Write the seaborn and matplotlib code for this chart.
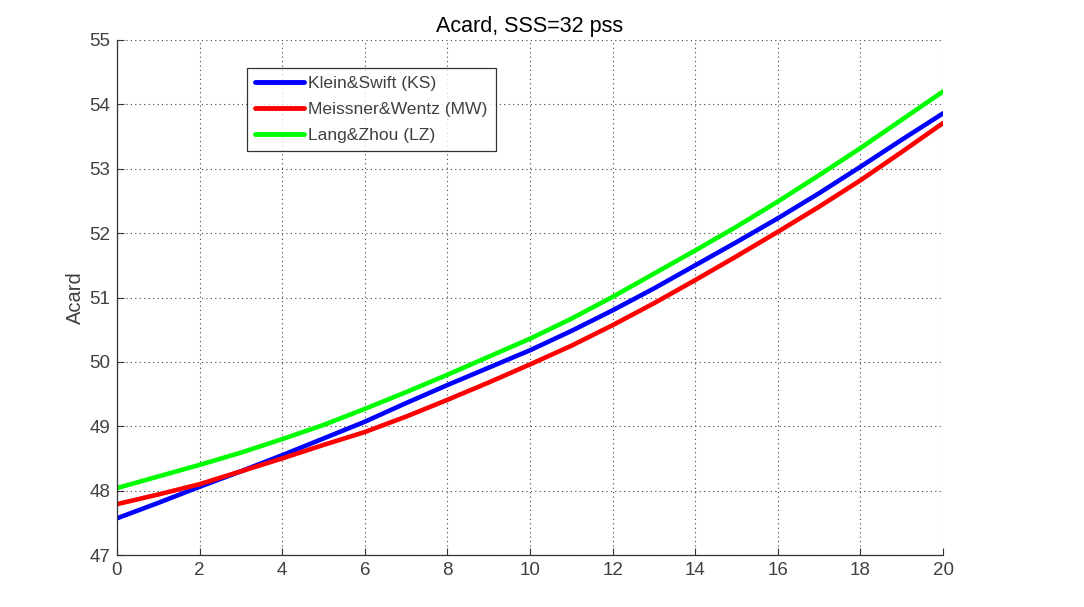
import matplotlib
matplotlib.use("Agg")
import matplotlib.pyplot as plt
import seaborn as sns
import pandas as pd

x_vals = list(range(0, 21))
ks_vals = [47.57, 47.81, 48.06, 48.30, 48.55, 48.81, 49.07, 49.36, 49.64, 49.91, 50.18,
           50.48, 50.80, 51.14, 51.50, 51.86, 52.23, 52.62, 53.03, 53.45, 53.86]
mw_vals = [47.79, 47.94, 48.10, 48.30, 48.50, 48.71, 48.91, 49.15, 49.41, 49.68, 49.96,
           50.25, 50.57, 50.91, 51.27, 51.64, 52.02, 52.41, 52.82, 53.26, 53.71]
lz_vals = [48.04, 48.22, 48.40, 48.59, 48.80, 49.02, 49.27, 49.53, 49.80, 50.08, 50.36,
           50.67, 51.01, 51.37, 51.73, 52.10, 52.49, 52.90, 53.32, 53.76, 54.20]
series_names = ["Klein&Swift (KS)", "Meissner&Wentz (MW)", "Lang&Zhou (LZ)"]
colors = ["#0000FF", "#FF0000", "#00FF00"]
x_ticks = list(range(0, 21, 2))
y_ticks = list(range(47, 56))

df = pd.DataFrame({
    "x": x_vals * 3,
    "Acard": ks_vals + mw_vals + lz_vals,
    "model": [series_names[0]] * len(x_vals) + [series_names[1]] * len(x_vals) + [series_names[2]] * len(x_vals),
})

sns.set_style("white")
plt.rcParams["font.family"] = ["Liberation Sans", "DejaVu Sans"]

fig = plt.figure(figsize=(10.84, 6.07), dpi=100)
ax = fig.add_axes([117 / 1084, 52 / 607, (943 - 117) / 1084, (555 - 40) / 607])

sns.lineplot(data=df, x="x", y="Acard", hue="model", palette=colors,
             hue_order=series_names, linewidth=3.3, ax=ax, legend=True)

ax.set_xlim(0, 20)
ax.set_ylim(47, 55)
ax.set_xticks(x_ticks)
ax.set_yticks(y_ticks)
ax.grid(True, linestyle=(0, (1, 3)), color="#444444", linewidth=0.8)
for s in ["top", "right"]:
    ax.spines[s].set_visible(False)
for s in ["left", "bottom"]:
    ax.spines[s].set_color("#333333")
    ax.spines[s].set_linewidth(0.9)
ax.tick_params(direction="in", length=5, colors="#333333", labelsize=13.5,
               labelcolor="#404040", left=True, bottom=True, pad=5)
ax.set_xlabel("")
ax.set_ylabel("Acard", fontsize=14.5, color="#404040", labelpad=3)
ax.set_title("Acard, SSS=32 pss", fontsize=15.5, color="black", pad=6)

leg = ax.legend(loc="upper left", bbox_to_anchor=((247 - 117) / 826, 1 - (68 - 40) / 515),
                fontsize=12.6, frameon=True, fancybox=False, borderaxespad=0,
                handlelength=2.8, handletextpad=0.25, borderpad=0.45, labelspacing=0.6)
leg.get_frame().set_edgecolor("black")
leg.get_frame().set_linewidth(0.9)
for t in leg.get_texts():
    t.set_color("#404040")
for l in leg.get_lines():
    l.set_linewidth(3.5)

fig.savefig("out.png", dpi=100)
